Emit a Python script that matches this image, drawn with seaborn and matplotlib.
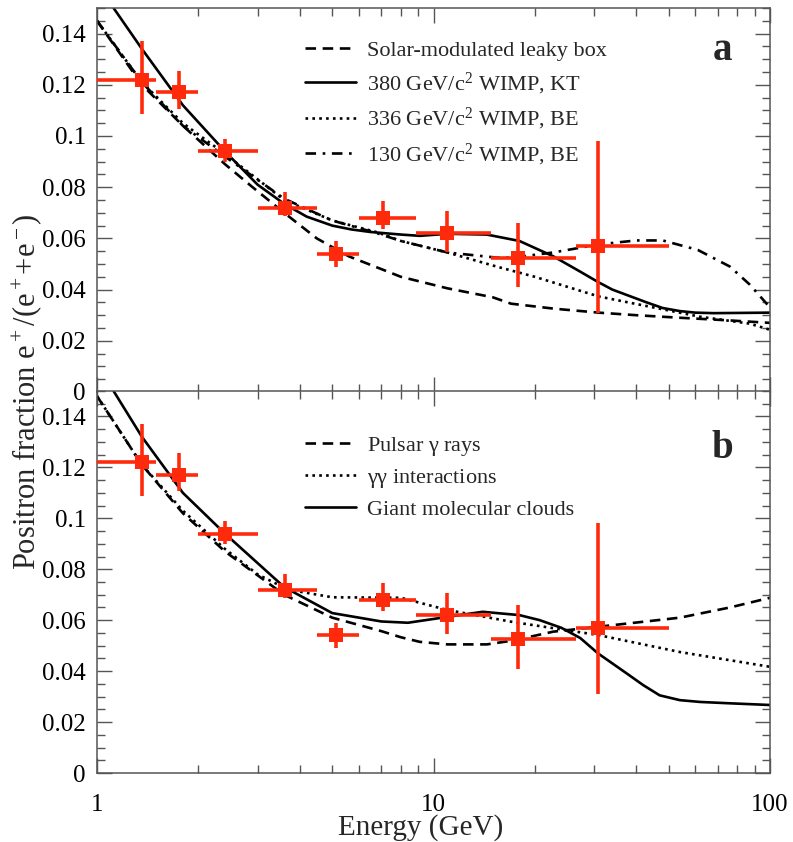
import numpy as np
import pandas as pd
import matplotlib
matplotlib.use("Agg")
import matplotlib.pyplot as plt
from matplotlib.ticker import FixedLocator, FuncFormatter, MultipleLocator, LogLocator, NullFormatter
import seaborn as sns

# ---------------- data ----------------
energy = [1.36, 1.75, 2.4, 3.62, 5.13, 7.1, 11.0, 17.8, 30.8]
energy_lo = [1.0, 1.5, 2.0, 3.0, 4.5, 6.0, 8.9, 14.8, 26.5]
energy_hi = [1.5, 2.0, 3.0, 4.5, 6.0, 8.9, 14.8, 26.5, 50.0]
fraction = [0.122, 0.117, 0.094, 0.072, 0.054, 0.068, 0.062, 0.0525, 0.057]
fraction_lo = [0.1086, 0.1106, 0.0898, 0.0686, 0.049, 0.0635, 0.0545, 0.041, 0.031]
fraction_hi = [0.137, 0.1255, 0.099, 0.078, 0.059, 0.0746, 0.0706, 0.066, 0.098]

# panel a curves
leaky_x = [1, 1.36, 1.8, 2.4, 2.9, 3.6, 4.5, 5.6, 7, 8, 11, 15, 17, 23, 31, 40, 54, 75, 100]
leaky_y = [0.145, 0.120, 0.104, 0.089, 0.080, 0.070, 0.060, 0.053, 0.048, 0.045, 0.0405, 0.037,
           0.0345, 0.0325, 0.031, 0.030, 0.029, 0.028, 0.027]
kt380_x = [1.12, 1.36, 1.8, 2.4, 3.0, 3.6, 4.2, 5.0, 5.7, 6.5, 8, 9.1, 11, 14.4, 18, 22.7, 27.3,
           30.8, 34, 43, 48, 54, 60, 68, 100]
kt380_y = [0.150, 0.134, 0.112, 0.094, 0.081, 0.0735, 0.0685, 0.065, 0.0635, 0.0625, 0.0615,
           0.061, 0.0618, 0.0615, 0.059, 0.053, 0.047, 0.043, 0.040, 0.035, 0.0328, 0.0316, 0.031,
           0.0308, 0.031]
be336_x = [1, 1.36, 1.8, 2.4, 3.6, 5, 6.8, 8, 11, 15.4, 20, 31, 44, 62, 87, 100]
be336_y = [0.145, 0.121, 0.105, 0.093, 0.075, 0.067, 0.0624, 0.059, 0.0545, 0.049, 0.045, 0.0373,
           0.0333, 0.0294, 0.0267, 0.0243]
be130_x = [1, 1.36, 1.8, 2.4, 3.6, 5, 6.8, 8, 11, 15.4, 17.2, 22.7, 30.8, 40, 48, 61, 76, 87, 100]
be130_y = [0.145, 0.121, 0.104, 0.092, 0.0755, 0.067, 0.062, 0.059, 0.0545, 0.0525, 0.0525,
           0.0545, 0.0576, 0.0592, 0.0592, 0.0555, 0.049, 0.042, 0.033]

# panel b curves
pulsar_x = [1, 1.36, 1.8, 2.4, 3.6, 5, 7, 8, 9.1, 11, 14.4, 17.2, 22.7, 30.8, 54, 76, 100]
pulsar_y = [0.148, 0.121, 0.102, 0.087, 0.070, 0.061, 0.0557, 0.0533, 0.0515, 0.0505, 0.0505,
            0.052, 0.0555, 0.0574, 0.061, 0.065, 0.0688]
gg_x = [1, 1.36, 1.8, 2.4, 3.0, 3.7, 5, 8, 11, 17.2, 30.8, 54, 100]
gg_y = [0.148, 0.121, 0.103, 0.088, 0.078, 0.072, 0.069, 0.0688, 0.064, 0.0593, 0.0542, 0.0475,
        0.0417]
gmc_x = [1.12, 1.36, 1.8, 2.4, 3.6, 5, 7, 8.4, 11, 14, 18, 20.7, 24, 27.3, 30.8, 37.6, 42, 47,
         54, 62, 75, 100]
gmc_y = [0.150, 0.132, 0.110, 0.094, 0.073, 0.0628, 0.0595, 0.059, 0.0613, 0.0633, 0.062, 0.060,
         0.057, 0.053, 0.047, 0.039, 0.0345, 0.0305, 0.0286, 0.0279, 0.0274, 0.0267]

labels_a = ["Solar-modulated leaky box", r"380 GeV/c$^2$ WIMP, KT",
            r"336 GeV/c$^2$ WIMP, BE", r"130 GeV/c$^2$ WIMP, BE"]
labels_b = [r"Pulsar $\gamma$ rays", r"$\gamma\gamma$ interactions", "Giant molecular clouds"]

# ---------------- style ----------------
sns.set_style("ticks")
plt.rcParams['font.family'] = ['Liberation Serif', 'DejaVu Serif']
plt.rcParams['mathtext.fontset'] = 'custom'
plt.rcParams['mathtext.rm'] = 'Liberation Serif'
plt.rcParams['mathtext.it'] = 'Liberation Serif:italic'
plt.rcParams['mathtext.default'] = 'rm'

RED = '#ff2a0c'
TICKC = '#555555'

fig = plt.figure(figsize=(7.93, 8.42), dpi=100)
left, width = 97 / 793, (770 - 97) / 793
ax_a = fig.add_axes([left, 1 - 392 / 842, width, 384 / 842])
ax_b = fig.add_axes([left, 1 - 773 / 842, width, 382 / 842], sharex=ax_a)

LW = 1.9
styles_a = [(leaky_x, leaky_y, (0, (4, 2.5))), (kt380_x, kt380_y, '-'),
            (be336_x, be336_y, (0, (1, 1.6))), (be130_x, be130_y, (0, (4, 2.5, 1, 2.5)))]
styles_b = [(pulsar_x, pulsar_y, (0, (4, 2.5))), (gg_x, gg_y, (0, (1, 1.6))), (gmc_x, gmc_y, '-')]


def draw(ax, styles, labels):
    for (xs, ys, ls), lab in zip(styles, labels):
        df = pd.DataFrame({'E': xs, 'f': ys})
        sns.lineplot(data=df, x='E', y='f', ax=ax, color='black', lw=LW, linestyle=ls,
                     label=lab, sort=True, estimator=None)
    ax.errorbar(energy, fraction,
                xerr=[np.array(energy) - np.array(energy_lo), np.array(energy_hi) - np.array(energy)],
                yerr=[np.array(fraction) - np.array(fraction_lo), np.array(fraction_hi) - np.array(fraction)],
                fmt='none', ecolor=RED, elinewidth=2.6, capsize=0, zorder=5)
    sns.scatterplot(x=energy, y=fraction, ax=ax, marker='s', s=95, color=RED, edgecolor=RED,
                    linewidth=0, zorder=6, legend=False)
    ax.set_xscale('log')
    ax.set_xlim(1, 100)
    ax.set_ylim(0, 0.15)
    ax.yaxis.set_major_locator(FixedLocator([0, 0.02, 0.04, 0.06, 0.08, 0.10, 0.12, 0.14]))
    ax.yaxis.set_minor_locator(MultipleLocator(0.005))
    ax.yaxis.set_major_formatter(FuncFormatter(lambda v, p: f"{v:g}"))
    ax.xaxis.set_major_locator(LogLocator(base=10, numticks=5))
    ax.xaxis.set_minor_locator(LogLocator(base=10, subs=np.arange(2, 10), numticks=20))
    ax.xaxis.set_minor_formatter(NullFormatter())
    ax.tick_params(which='both', direction='in', top=True, right=True, colors=TICKC,
                   labelcolor='black', labelsize=18, width=1.0)
    ax.tick_params(which='major', length=11)
    ax.tick_params(which='minor', length=6)
    ax.tick_params(axis='x', which='major', pad=15)
    ax.tick_params(axis='y', which='major', pad=8)
    for s in ax.spines.values():
        s.set_color('#555555')
        s.set_linewidth(1.1)
    ax.set_xlabel('')
    ax.set_ylabel('')


draw(ax_a, styles_a, labels_a)
draw(ax_b, styles_b, labels_b)
ax_a.tick_params(axis='x', labelbottom=False)
ax_b.xaxis.set_major_formatter(FuncFormatter(lambda v, p: f"{v:g}"))

leg_kw = dict(frameon=False, fontsize=16, handlelength=2.3, handletextpad=0.5,
              labelspacing=0.42, borderpad=0, borderaxespad=0, loc='upper left')
ax_a.legend(bbox_to_anchor=(0.309, 0.915), **leg_kw)
ax_b.legend(bbox_to_anchor=(0.309, 0.885), **leg_kw)

ax_a.text(0.929, 0.865, 'a', transform=ax_a.transAxes, fontsize=28, fontweight='bold',
          ha='center', va='baseline')
ax_b.text(0.929, 0.825, 'b', transform=ax_b.transAxes, fontsize=28, fontweight='bold',
          ha='center', va='baseline')

fig.text(27 / 793, 1 - 392 / 842, r"Positron fraction e$^+$/(e$^+$+e$^-$)", rotation=90,
         fontsize=22, ha='center', va='center')
fig.text(0.53, 1 / 842, "Energy (GeV)", fontsize=21, ha='center', va='bottom')

fig.savefig('out.png', dpi=100)
